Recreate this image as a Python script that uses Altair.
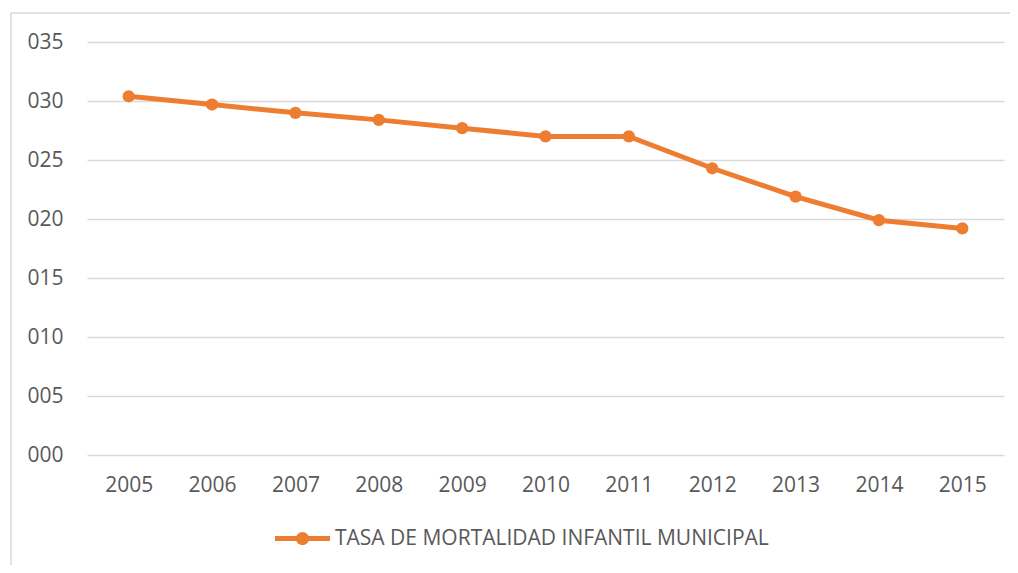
import altair as alt
import pandas as pd

years = ["2005", "2006", "2007", "2008", "2009", "2010", "2011", "2012", "2013", "2014", "2015"]
values = [30.4, 29.7, 29.0, 28.4, 27.7, 27.0, 27.0, 24.3, 21.9, 19.9, 19.2]
series = "TASA DE MORTALIDAD INFANTIL MUNICIPAL"

df = pd.DataFrame({"year": years, "value": values, "serie": [series] * len(years)})

ORANGE = "#ED7D31"
FONT = "Open Sans"
TXT = "#595959"
FS = 21

legend_symbol = ("M-1,-0.09 L1,-0.09 L1,0.09 L-1,0.09 Z "
                 "M-0.24,0 A0.24,0.24 0 1,1 0.24,0 A0.24,0.24 0 1,1 -0.24,0 Z")

x = alt.X("year:O", title=None,
          scale=alt.Scale(type="point", padding=0.5),
          axis=alt.Axis(labelAngle=0, domain=False, ticks=False, grid=False,
                        labelFont=FONT, labelFontSize=FS, labelColor=TXT, labelPadding=19))
y = alt.Y("value:Q", title=None,
          scale=alt.Scale(domain=[0, 35]),
          axis=alt.Axis(values=[0, 5, 10, 15, 20, 25, 30, 35], format="03d",
                        domain=False, ticks=False, grid=True, gridColor="#d9d9d9", gridWidth=1.5,
                        labelFont=FONT, labelFontSize=FS, labelColor=TXT, labelPadding=24))
color = alt.Color("serie:N", title=None,
                  scale=alt.Scale(range=[ORANGE]),
                  legend=alt.Legend(orient="none", legendX=188, legendY=469,
                                    symbolType=legend_symbol, symbolSize=3025,
                                    symbolFillColor=ORANGE, symbolStrokeWidth=0,
                                    labelFont=FONT, labelFontSize=FS, labelColor=TXT,
                                    labelOffset=5, labelLimit=700))

frame = alt.Chart(pd.DataFrame({"a": [0]})).mark_rect(
    fill=None, stroke="#d9d9d9", strokeWidth=1.5
).encode(x=alt.value(-76), x2=alt.value(980), y=alt.value(-29), y2=alt.value(560))

line = alt.Chart(df).mark_line(strokeWidth=5).encode(x=x, y=y, color=color)
points = alt.Chart(df).mark_circle(size=150, opacity=1).encode(
    x=x, y=y, color=alt.Color("serie:N", scale=alt.Scale(range=[ORANGE]), legend=None))

chart = alt.layer(frame, line, points).properties(
    width=917, height=413,
    autosize=alt.AutoSizeParams(type="none"),
    padding={"left": 79, "top": 34, "right": 6, "bottom": 110},
    background="white",
).configure_view(stroke=None)

chart.save("out.html", embed_options={"renderer": "svg", "actions": False})
